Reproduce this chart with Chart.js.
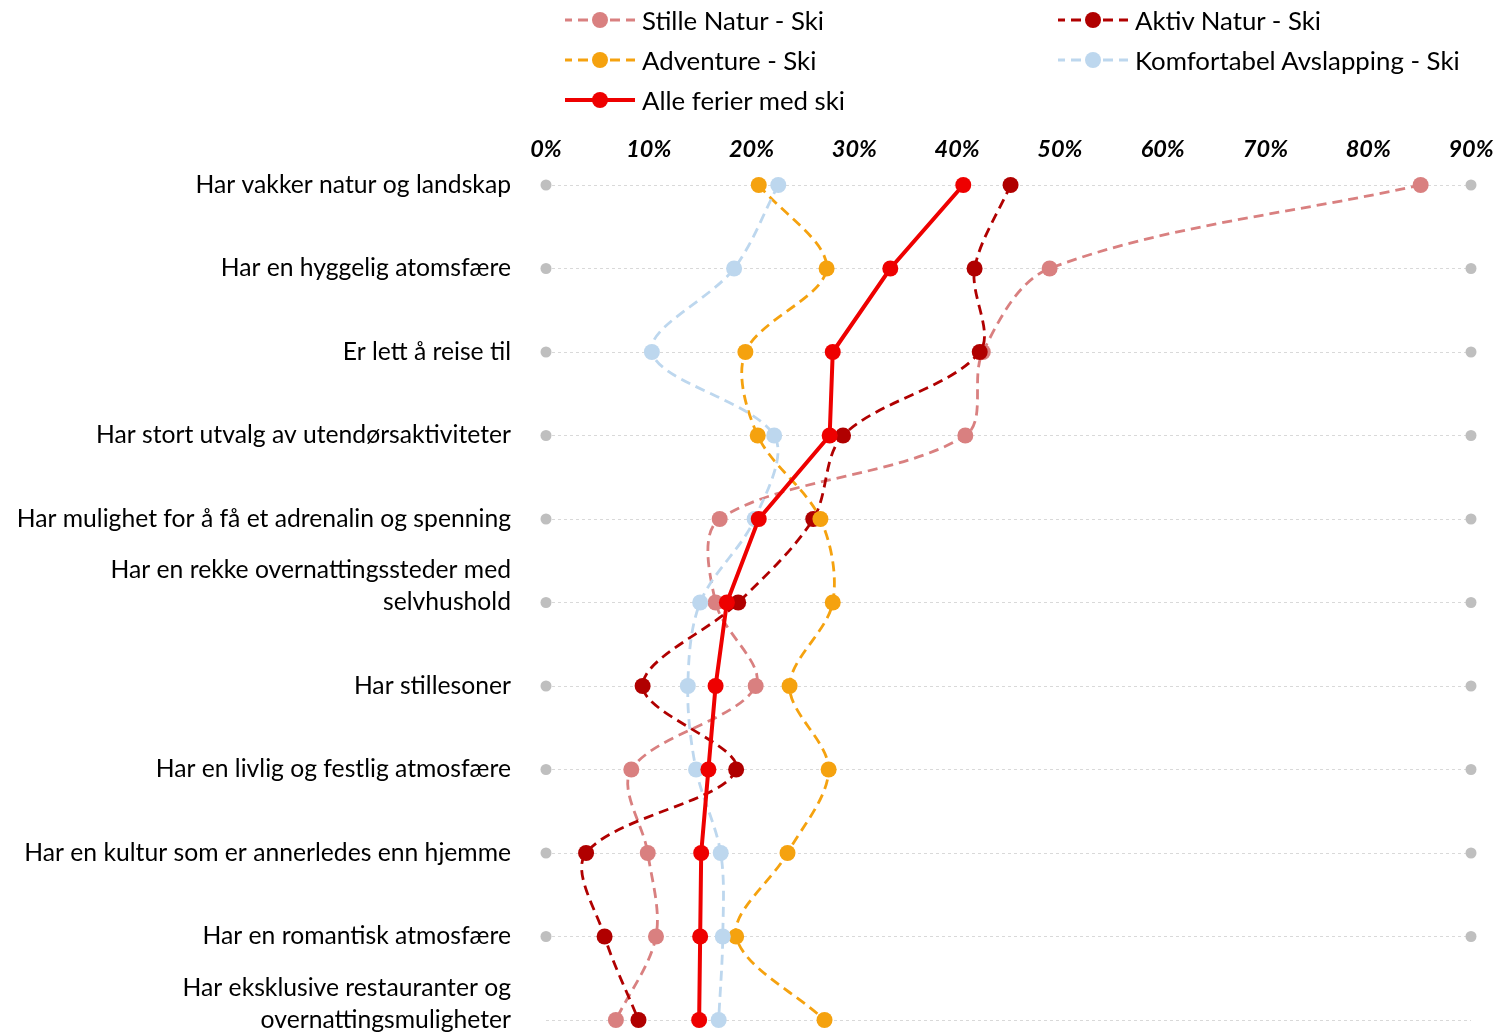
<!DOCTYPE html>
<html>
<head>
<meta charset="utf-8">
<script src="https://cdn.jsdelivr.net/npm/chart.js@4"></script>
<style>
  html, body { margin: 0; padding: 0; background: #fff; }
  #wrap { position: relative; width: 1499px; height: 1035px; }
  #legend { position: absolute; left: 0; top: 0; width: 1499px; height: 120px; font-family: Lato, "Open Sans", sans-serif; font-size: 25.8px; color: #000; }
  .item { position: absolute; display: flex; align-items: center; height: 30px; white-space: nowrap; }
  .item svg { margin-right: 7px; }
</style>
</head>
<body>
<div id="wrap">
  <canvas id="chart" width="1499" height="1035"></canvas>
  <div id="legend"></div>
</div>
<script>
const categories = [
  "Har vakker natur og landskap",
  "Har en hyggelig atomsfære",
  "Er lett å reise til",
  "Har stort utvalg av utendørsaktiviteter",
  "Har mulighet for å få et adrenalin og spenning",
  ["Har en rekke overnattingssteder med", "selvhushold", ""],
  "Har stillesoner",
  "Har en livlig og festlig atmosfære",
  "Har en kultur som er annerledes enn hjemme",
  "Har en romantisk atmosfære",
  ["Har eksklusive restauranter og", "overnattingsmuligheter", ""]
]

const stilleNatur = [85.1, 49.0, 42.5, 40.8, 16.9, 16.5, 20.4, 8.3, 9.9, 10.7, 6.8]
const aktivNatur = [45.2, 41.7, 42.2, 28.9, 26.0, 18.7, 9.4, 18.5, 3.9, 5.7, 9.0]
const adventure = [20.7, 27.3, 19.4, 20.6, 26.7, 27.9, 23.7, 27.5, 23.5, 18.5, 27.1]
const komfortabel = [22.6, 18.3, 10.3, 22.2, 20.3, 15.0, 13.8, 14.6, 17.0, 17.2, 16.8]
const alleFerier = [40.6, 33.5, 27.9, 27.6, 20.7, 17.6, 16.5, 15.8, 15.1, 15.0, 14.9]
const frameLeft = [0, 0, 0, 0, 0, 0, 0, 0, 0, 0, null]
const frameRight = [90, 90, 90, 90, 90, 90, 90, 90, 90, 90, null]
const xTicks = [0, 10, 20, 30, 40, 50, 60, 70, 80, 90]

const FONT = "Lato, 'Open Sans', sans-serif"

function dashed(label, data, color, order) {
  return {
    label: label,
    data: data,
    borderColor: color,
    backgroundColor: color,
    borderWidth: 2.8,
    borderDash: [10, 6],
    tension: 0.33,
    pointRadius: 8,
    pointHoverRadius: 8,
    pointBorderWidth: 0,
    order: order,
    clip: false,
  }
}

function frame(data) {
  return {
    label: "",
    data: data,
    showLine: false,
    backgroundColor: "#BFBFBF",
    borderColor: "#BFBFBF",
    pointRadius: 5.5,
    pointBorderWidth: 0,
    order: 10,
    clip: false,
    legend: false,
  }
}

const datasets = [
  dashed("Stille Natur - Ski", stilleNatur, "#D98080", 5),
  dashed("Aktiv Natur - Ski", aktivNatur, "#B00000", 4),
  dashed("Adventure - Ski", adventure, "#F5A20F", 3),
  dashed("Komfortabel Avslapping - Ski", komfortabel, "#BDD7EE", 2),
  {
    label: "Alle ferier med ski",
    data: alleFerier,
    borderColor: "#EE0000",
    backgroundColor: "#EE0000",
    borderWidth: 4,
    tension: 0,
    pointRadius: 8,
    pointHoverRadius: 8,
    pointBorderWidth: 0,
    order: 1,
    clip: false,
  },
  frame(frameLeft),
  frame(frameRight),
]

new Chart(document.getElementById("chart"), {
  type: "line",
  data: { labels: categories, datasets: datasets },
  options: {
    indexAxis: "y",
    responsive: false,
    animation: false,
    layout: { padding: { left: 0, right: 28, top: 0, bottom: 15 } },
    plugins: {
      legend: { display: false },
      tooltip: { enabled: false },
    },
    scales: {
      x: {
        position: "top",
        min: 0,
        max: 90,
        afterBuildTicks: (scale) => {
          scale.ticks = xTicks.map((v) => ({ value: v }))
        },
        afterFit: (scale) => {
          scale.height = 185
          scale.paddingLeft = 0
          scale.paddingRight = 0
        },
        grid: { display: false, drawTicks: false },
        border: { display: false },
        ticks: {
          padding: 21,
          color: "#000",
          font: { family: FONT, size: 23.5, weight: "bold", style: "italic" },
          callback: (value) => value + "%",
        },
      },
      y: {
        offset: false,
        afterFit: (scale) => {
          scale.width = 546
          scale.paddingTop = 0
          scale.paddingBottom = 0
        },
        grid: { color: "#D9D9D9", lineWidth: 1, drawTicks: false },
        border: { display: false, dash: [3, 3] },
        ticks: {
          padding: 35,
          color: "#000",
          autoSkip: false,
          font: { family: FONT, size: 24.7, lineHeight: 1.3 },
        },
      },
    },
  },
})

// Legend in two columns like the original
const legendPos = [
  { x: 565, y: 5 },
  { x: 1058, y: 5 },
  { x: 565, y: 45 },
  { x: 1058, y: 45 },
  { x: 565, y: 85 },
]
const legend = document.getElementById("legend")
datasets
  .filter((d) => d.legend !== false)
  .forEach((d, i) => {
    const pos = legendPos[i]
    const el = document.createElement("div")
    el.className = "item"
    el.style.left = pos.x + "px"
    el.style.top = pos.y + "px"
    const dash = d.borderDash ? 'stroke-dasharray="10 6" stroke-dashoffset="3"' : ""
    el.innerHTML =
      '<svg width="70" height="30"><line x1="0" y1="15" x2="70" y2="15" stroke="' +
      d.borderColor + '" stroke-width="' + (d.borderDash ? 2.8 : 4) + '" ' + dash +
      ' /><circle cx="35" cy="15" r="8" fill="' + d.backgroundColor + '" /></svg>' +
      "<span>" + d.label + "</span>"
    legend.appendChild(el)
  })
</script>
</body>
</html>
